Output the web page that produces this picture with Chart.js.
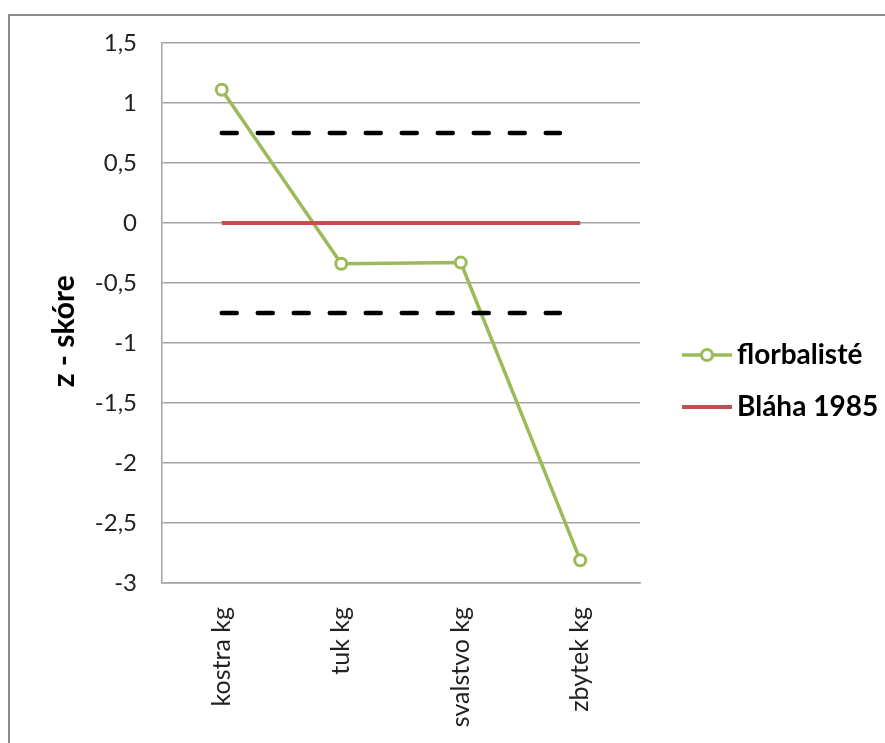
<!DOCTYPE html>
<html>
<head>
<meta charset="utf-8">
<script src="https://cdn.jsdelivr.net/npm/chart.js@4.4.1/dist/chart.umd.min.js"></script>
<style>
  html, body { margin: 0; padding: 0; background: #fff; overflow: hidden; }
  #frame {
    position: absolute; left: 8px; top: 14px; width: 900px; height: 760px;
    border-left: 2px solid #8c8c8c; border-top: 2px solid #8c8c8c;
  }
  #box { position: absolute; left: 10px; top: 16px; width: 875px; height: 727px; }
</style>
</head>
<body>
<div id="frame"></div>
<div id="box"><canvas id="chart"></canvas></div>
<script>
// Body composition categories and z-scores
const categories = ['kostra kg', 'tuk kg', 'svalstvo kg', 'zbytek kg'];
const florbalisteZ = [1.11, -0.34, -0.33, -2.81];
const blahaZ = [0, 0, 0, 0];

// Reference band (±0.75) drawn across the first categories
const bandLevels = [0.75, -0.75];
const bandFrom = 0;
const bandTo = 2.83;

// Value axis
const yMin = -3;
const yMax = 1.5;
const yStep = 0.5;

const FONT = 'Lato, "Open Sans", sans-serif';
const GREEN = '#9bbb59';
const RED = '#c0504d';
const GRID = '#a3a3a3';

const bandDatasets = bandLevels.map(level => ({
  label: 'mez ' + level,
  xAxisID: 'xBand',
  data: [{ x: bandFrom, y: level }, { x: bandTo, y: level }],
  borderColor: '#000',
  borderWidth: 4.5,
  borderDash: [15, 21],
  borderCapStyle: 'round',
  pointRadius: 0,
  fill: false,
  order: 0,
  inKey: false
}));

// Legend drawn on the right of the plot: line sample, optional marker, bold label
const sideKey = {
  id: 'sideKey',
  afterDraw(chart) {
    const { ctx, chartArea } = chart;
    const items = chart.data.datasets.filter(d => d.inKey);
    const x0 = chartArea.right + 42;
    const len = 50;
    let y = (chartArea.top + chartArea.bottom) / 2 + 42;
    ctx.save();
    items.forEach(ds => {
      ctx.beginPath();
      ctx.strokeStyle = ds.borderColor;
      ctx.lineWidth = ds.borderWidth;
      ctx.lineCap = 'butt';
      ctx.moveTo(x0, y);
      ctx.lineTo(x0 + len, y);
      ctx.stroke();
      if (ds.pointRadius > 0) {
        ctx.beginPath();
        ctx.arc(x0 + len / 2, y, ds.pointRadius, 0, Math.PI * 2);
        ctx.fillStyle = ds.pointBackgroundColor;
        ctx.fill();
        ctx.lineWidth = ds.pointBorderWidth;
        ctx.strokeStyle = ds.pointBorderColor;
        ctx.stroke();
      }
      ctx.fillStyle = '#000';
      ctx.font = 'bold 28px ' + FONT;
      ctx.textBaseline = 'middle';
      ctx.textAlign = 'left';
      ctx.fillText(ds.label, x0 + len + 5, y);
      y += 52;
    });
    ctx.restore();
  }
};

new Chart(document.getElementById('chart'), {
  type: 'line',
  data: {
    labels: categories,
    datasets: [
      {
        label: 'florbalisté',
        data: florbalisteZ,
        borderColor: GREEN,
        backgroundColor: GREEN,
        borderWidth: 3.5,
        pointRadius: 5.5,
        pointBorderWidth: 3,
        pointBackgroundColor: '#fff',
        pointBorderColor: GREEN,
        tension: 0,
        fill: false,
        order: 2,
        inKey: true
      },
      {
        label: 'Bláha 1985',
        data: blahaZ,
        borderColor: RED,
        backgroundColor: RED,
        borderWidth: 4,
        pointRadius: 0,
        tension: 0,
        fill: false,
        order: 1,
        inKey: true
      },
      ...bandDatasets
    ]
  },
  options: {
    responsive: true,
    maintainAspectRatio: false,
    animation: false,
    layout: { padding: { left: 0, top: 27, right: 245, bottom: 0 } },
    plugins: {
      legend: { display: false },
      tooltip: { enabled: false }
    },
    scales: {
      x: {
        type: 'category',
        offset: true,
        grid: { display: false, drawTicks: false },
        border: { display: true, color: GRID, width: 1.5 },
        ticks: {
          minRotation: 90,
          maxRotation: 90,
          padding: 24,
          color: '#222',
          font: { family: FONT, size: 25 }
        },
        afterFit: s => { s.height = 160; }
      },
      xBand: {
        type: 'linear',
        display: false,
        min: -0.5,
        max: 3.5
      },
      y: {
        min: yMin,
        max: yMax,
        ticks: {
          stepSize: yStep,
          padding: 25,
          color: '#222',
          font: { family: FONT, size: 24 },
          callback: v => String(v).replace('.', ',')
        },
        grid: { color: GRID, lineWidth: 1.5, drawTicks: false },
        border: { display: true, color: GRID, width: 1.5 },
        title: {
          display: true,
          text: 'z - skóre\u00a0\u00a0\u00a0\u00a0\u00a0',
          color: '#000',
          font: { family: FONT, size: 30, weight: 'bold' },
          padding: { top: 36, bottom: 0 }
        },
        afterFit: s => {
          s.width = 152;
          s.paddingTop = 0;
          s.paddingBottom = 0;
        }
      }
    }
  },
  plugins: [sideKey]
});
</script>
</body>
</html>
